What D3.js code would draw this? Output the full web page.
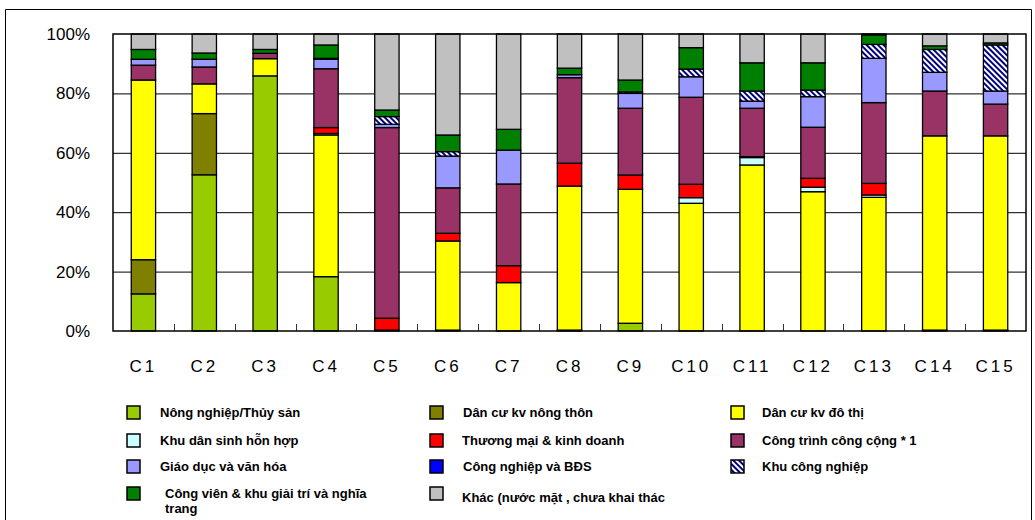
<!DOCTYPE html>
<html>
<head>
<meta charset="utf-8">
<script src="https://cdn.jsdelivr.net/npm/d3@7"></script>
<style>
  html, body { margin: 0; padding: 0; background: #fff; }
  svg { display: block; }
</style>
</head>
<body>
<svg id="chart" width="1035" height="520"></svg>
<script>
// Land-use share (%) per zone, stacked bottom to top in legend order
const categories = ["C1","C2","C3","C4","C5","C6","C7","C8","C9","C10","C11","C12","C13","C14","C15"];

const nongNghiep    = [12.5, 52.6, 85.9, 18.3, 0.3, 0.3, 0,    0.3,  2.6,  0,    0,    0,    0,    0.3,  0.3];
const danCuNongThon = [11.5, 20.6, 0,    0,    0,   0,   0,    0,    0,    0,    0,    0,    0,    0,    0];
const danCuDoThi    = [60.5, 10.0, 5.8,  47.7, 0,   30.0,16.3, 48.5, 45.1, 43.0, 55.9, 46.9, 45.0, 65.4, 65.4];
const khuDanSinh    = [0,    0,    0,    0.5,  0,   0,   0,    0,    0,    1.9,  2.5,  1.5,  0.8,  0,    0];
const thuongMai     = [0,    0,    0,    2.0,  4.0, 2.6, 5.7,  7.7,  4.8,  4.5,  0.3,  3.0,  3.9,  0,    0];
const congTrinh     = [5.0,  5.7,  1.8,  19.8, 64.2,15.3,27.5, 28.8, 22.5, 29.3, 16.3, 17.2, 27.2, 15.1, 10.7];
const giaoDuc       = [2.0,  2.6,  0,    3.2,  1.1, 10.7,11.4, 1.0,  5.0,  6.9,  2.4,  10.3, 14.9, 6.3,  4.4];
const congNghiepBDS = [0,    0,    0,    0,    0,   0,   0,    0,    0,    0,    0,    0,    0,    0,    0];
const khuCongNghiep = [0,    0,    0,    0.3,  2.6, 1.5, 0,    0,    0.5,  2.6,  3.4,  2.2,  4.7,  7.7,  15.5];
const congVien      = [3.3,  2.1,  1.3,  4.5,  2.2, 5.6, 7.0,  2.2,  4.0,  7.2,  9.5,  9.2,  3.2,  1.2,  0.7];
const khac          = [5.2,  6.4,  5.2,  3.7,  25.6,34.0,32.1, 11.5, 15.5, 4.6,  9.7,  9.7,  0.3,  4.0,  3.0];

const yTicks = [0, 20, 40, 60, 80, 100];

const series = [
  { key: "nn",  name: "Nông nghiệp/Thủy sản",            values: nongNghiep,    fill: "#99CC00" },
  { key: "nt",  name: "Dân cư kv nông thôn",             values: danCuNongThon, fill: "#808000" },
  { key: "dt",  name: "Dân cư kv đô thị",                values: danCuDoThi,    fill: "#FFFF00" },
  { key: "ds",  name: "Khu dân sinh hỗn hợp",            values: khuDanSinh,    fill: "#CCFFFF" },
  { key: "tm",  name: "Thương mại & kinh doanh",         values: thuongMai,     fill: "#FF0000" },
  { key: "ct",  name: "Công trình công cộng * 1",        values: congTrinh,     fill: "#993366" },
  { key: "gd",  name: "Giáo dục và văn hóa",             values: giaoDuc,       fill: "#9999FF" },
  { key: "cn",  name: "Công nghiệp và BĐS",              values: congNghiepBDS, fill: "#0000FF" },
  { key: "kcn", name: "Khu công nghiệp",                 values: khuCongNghiep, fill: "url(#hatch)" },
  { key: "cv",  name: ["Công viên & khu giải trí và nghĩa", "trang"], values: congVien, fill: "#008000" },
  { key: "kh",  name: "Khác (nước mặt , chưa khai thác", values: khac,          fill: "#C0C0C0" }
];

const rows = categories.map((c, i) => {
  const r = { cat: c };
  series.forEach(s => { r[s.key] = s.values[i]; });
  return r;
});

const svg = d3.select("#chart");
const font = "'Liberation Sans', Arial, sans-serif";

// diagonal navy/white hatch
const defs = svg.append("defs");
const pat = defs.append("pattern")
  .attr("id", "hatch").attr("patternUnits", "userSpaceOnUse")
  .attr("width", 4).attr("height", 4)
  .attr("patternTransform", "rotate(-45)");
pat.append("rect").attr("width", 4).attr("height", 4).attr("fill", "#fff");
pat.append("rect").attr("width", 2).attr("height", 4).attr("fill", "#000080");

// outer frame
svg.append("path")
  .attr("d", "M5.5,530 V9.5 H1031.5 V530")
  .attr("fill", "none").attr("stroke", "#000").attr("stroke-width", 1);

const plot = { left: 113, right: 1026, top: 34, bottom: 331 };

const x = d3.scaleBand().domain(categories)
  .range([plot.left, plot.right]).paddingInner(0.6).paddingOuter(0.3);
const y = d3.scaleLinear().domain([0, 100]).range([plot.bottom, plot.top]);

// gridlines
svg.append("g").selectAll("line").data(yTicks.filter(d => d > 0 && d < 100)).join("line")
  .attr("x1", plot.left).attr("x2", plot.right)
  .attr("y1", d => y(d) + 0.5).attr("y2", d => y(d) + 0.5)
  .attr("stroke", "#000").attr("stroke-width", 1);

// tick marks between categories
const step = x.step();
svg.append("g").selectAll("line").data(categories.slice(1)).join("line")
  .attr("x1", (d, i) => Math.round(plot.left + step * (i + 1)) + 0.5)
  .attr("x2", (d, i) => Math.round(plot.left + step * (i + 1)) + 0.5)
  .attr("y1", plot.bottom).attr("y2", plot.bottom - 7)
  .attr("stroke", "#333").attr("stroke-width", 1);

// stacked bars
const stacked = d3.stack().keys(series.map(s => s.key))(rows);
const gBars = svg.append("g");
stacked.forEach((layer, li) => {
  gBars.append("g").selectAll("rect")
    .data(layer.filter(d => d[1] - d[0] > 0))
    .join("rect")
    .attr("x", d => x(d.data.cat))
    .attr("width", x.bandwidth())
    .attr("y", d => y(d[1]))
    .attr("height", d => y(d[0]) - y(d[1]))
    .attr("fill", series[li].fill)
    .attr("stroke", "#000").attr("stroke-width", 1.3);
});

// plot frame
svg.append("rect")
  .attr("x", plot.left).attr("y", plot.top)
  .attr("width", plot.right - plot.left).attr("height", plot.bottom - plot.top)
  .attr("fill", "none").attr("stroke", "#000").attr("stroke-width", 1.5);

// y axis labels
const yAxis = svg.append("g")
  .attr("transform", `translate(${plot.left},0)`)
  .call(d3.axisLeft(y).tickValues(yTicks).tickFormat(d => d + "%").tickSize(0).tickPadding(23));
yAxis.select(".domain").remove();
yAxis.selectAll("text").attr("font-family", font).attr("font-size", 17).attr("fill", "#000");

// x axis labels
const xAxis = svg.append("g")
  .attr("transform", `translate(0,${plot.bottom})`)
  .call(d3.axisBottom(x).tickSize(0));
xAxis.select(".domain").remove();
xAxis.selectAll("text")
  .attr("font-family", font).attr("font-size", 17).attr("fill", "#000")
  .attr("letter-spacing", "3px")
  .attr("y", 41).attr("dy", 0);

// legend: 3 columns x 4 rows
const colSw = [127, 430, 731];
const colTx = [160, 462, 762];
const rowY = [406, 434, 460, 487];
const legend = svg.append("g");
series.forEach((s, i) => {
  const c = i % 3, r = Math.floor(i / 3);
  legend.append("rect")
    .attr("x", colSw[c]).attr("y", rowY[r])
    .attr("width", 13).attr("height", 13)
    .attr("fill", s.fill).attr("stroke", "#000").attr("stroke-width", 1.5);
  const lines = Array.isArray(s.name) ? s.name : [s.name];
  const tx = colTx[c] + (Array.isArray(s.name) ? 5 : (c === 1 && r % 2 === 0 ? 1 : 0));
  const t = legend.append("text")
    .attr("font-family", font).attr("font-size", 13).attr("font-weight", "bold")
    .attr("fill", "#000");
  if (lines.length === 1) {
    t.attr("x", tx).attr("y", rowY[r] + 6.5 + (r === 3 ? 4 : 0)).attr("dy", "0.35em").text(lines[0]);
  } else {
    lines.forEach((ln, k) => {
      t.append("tspan").attr("x", tx).attr("y", rowY[r] + 6 + k * 15).attr("dy", "0.35em").text(ln);
    });
  }
});
</script>
</body>
</html>
